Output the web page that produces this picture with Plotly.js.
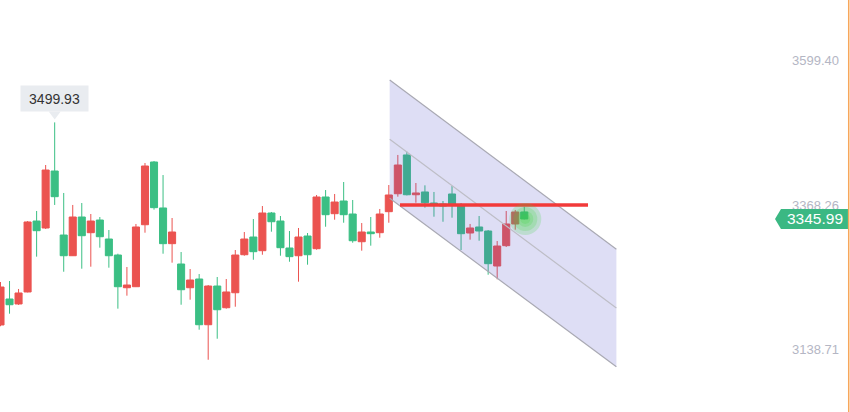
<!DOCTYPE html>
<html><head><meta charset="utf-8">
<script src="https://cdn.plot.ly/plotly-3.0.1.min.js"></script>
<style>html,body{margin:0;padding:0;background:#fff}#chart{width:850px;height:412px}</style>
</head><body><div id="chart"></div>
<script>
// ---- data ----
const openP  = [3177.0,3218.4,3210.5,3229.6,3342.7,3331.6,3422.4,3320.4,3287.4,3349.1,
                3324.1,3344.3,3314.0,3288.5,3236.4,3238.0,3336.8,3436.8,3363.5,3306.6,
                3274.2,3236.4,3250.3,3177.4,3239.1,3204.5,3228.4,3289.0,3317.2,3295.4,
                3355.5,3342.7,3299.7,3287.4,3318.8,3298.6,3381.0,3354.4,3374.6,3353.9,
                3309.7,3325.2,3324.1,3357.6,3386.2,3448.0,3384.6,3389.0,3371.4,3369.8,
                3385.8,3367.1,3323.6,3333.2,3326.8,3271.0,3303.4,3338.0,3357.1];
const highP  = [3245.5,3247.1,3234.4,3342.7,3358.7,3432.0,3499.93,3387.4,3368.3,3371.4,
                3353.9,3349.1,3328.4,3290.6,3269.4,3338.0,3435.2,3438.4,3416.0,3347.5,
                3293.3,3266.2,3258.2,3240.7,3253.5,3250.3,3296.5,3325.2,3345.9,3366.6,
                3357.1,3350.7,3326.8,3331.6,3323.6,3384.2,3392.1,3385.8,3404.9,3376.2,
                3339.5,3349.1,3361.9,3400.1,3448.0,3453.2,3403.3,3399.6,3389.0,3374.6,
                3398.5,3371.4,3338.0,3350.7,3328.4,3310.8,3358.7,3360.3,3365.5];
const lowP   = [3175.0,3195.0,3209.0,3229.0,3285.9,3330.0,3368.3,3261.9,3287.0,3266.7,
                3269.9,3300.2,3268.3,3203.0,3223.7,3237.5,3324.1,3360.8,3290.6,3276.3,
                3209.3,3217.3,3169.5,3121.6,3155.1,3203.0,3206.1,3287.4,3281.0,3289.0,
                3325.7,3287.4,3277.8,3246.0,3273.1,3297.0,3333.6,3344.8,3340.0,3308.1,
                3295.4,3303.4,3316.1,3340.0,3381.5,3383.5,3371.9,3364.0,3349.6,3341.6,
                3348.0,3296.5,3313.0,3311.3,3257.1,3249.8,3301.3,3328.9,3345.2];
const closeP = [3237.5,3209.3,3228.0,3341.2,3327.3,3424.0,3381.5,3287.4,3349.1,3319.3,
                3342.7,3317.7,3287.4,3238.0,3240.7,3333.2,3430.4,3364.0,3306.6,3325.2,
                3233.2,3248.7,3177.4,3239.1,3201.3,3229.6,3288.5,3314.0,3293.8,3355.5,
                3341.6,3300.2,3285.9,3317.2,3289.0,3381.0,3352.8,3373.0,3352.8,3311.3,
                3325.2,3322.5,3353.9,3384.2,3432.0,3384.6,3387.4,3371.9,3368.3,3366.6,
                3368.7,3322.5,3331.6,3326.8,3274.7,3302.9,3338.0,3357.1,3345.99];
const xIdx = openP.map((_, i) => i);
const yTickVals = [3138.71, 3368.26, 3599.40];
const yTickText = ['3138.71', '3368.26', '3599.40'];
// channel & level drawing (index / price units)
const channelX = [43.1, 68.2];
const channelTop = [3567.5, 3297.6];
const channelBottom = [3378.9, 3110.5];
const levelX = [44.24, 65.06];
const levelPrice = 3368.26;

// ---- derived ----
const n = closeP.length;
const last = n - 1;
const lastClose = closeP[last];
let maxIdx = 0;
highP.forEach((h, i) => { if (h > highP[maxIdx]) maxIdx = i; });
const chMid = [(channelTop[0] + channelBottom[0]) / 2, (channelTop[1] + channelBottom[1]) / 2];

const RED = '#eb5350', GREEN = '#3bbf84';
const traces = [
  {type: 'candlestick', x: xIdx, open: openP, high: highP, low: lowP, close: closeP,
   increasing: {line: {color: RED, width: 1}, fillcolor: RED},
   decreasing: {line: {color: GREEN, width: 1}, fillcolor: GREEN},
   whiskerwidth: 0, hoverinfo: 'none', showlegend: false}
];

const glow = [16, 12, 8, 5].map(r => ({
  type: 'circle', layer: 'above', xref: 'x', yref: 'y', xsizemode: 'pixel', ysizemode: 'pixel',
  xanchor: last, yanchor: lastClose, x0: -r + 1, x1: r + 1, y0: -r, y1: r,
  fillcolor: 'rgba(60,215,60,0.2)', line: {width: 0}
}));

const shapes = [
  {type: 'path', layer: 'above', xref: 'x', yref: 'y',
   path: `M ${channelX[0]},${channelTop[0]} L ${channelX[1]},${channelTop[1]} L ${channelX[1]},${channelBottom[1]} L ${channelX[0]},${channelBottom[0]} Z`,
   fillcolor: 'rgba(90,90,205,0.2)', line: {width: 0}},
  {type: 'line', layer: 'above', xref: 'x', yref: 'y', x0: channelX[0], x1: channelX[1], y0: channelTop[0], y1: channelTop[1], line: {color: '#a9a9b3', width: 1.2}},
  {type: 'line', layer: 'above', xref: 'x', yref: 'y', x0: channelX[0], x1: channelX[1], y0: chMid[0], y1: chMid[1], line: {color: '#bdbdc6', width: 1.2}},
  {type: 'line', layer: 'above', xref: 'x', yref: 'y', x0: channelX[0], x1: channelX[1], y0: channelBottom[0], y1: channelBottom[1], line: {color: '#a9a9b3', width: 1.2}},
  {type: 'line', layer: 'above', xref: 'x', yref: 'y', x0: levelX[0], x1: levelX[1], y0: levelPrice, y1: levelPrice, line: {color: '#f23a3a', width: 3.5}},
  ...glow,
  // pointer below the high label
  {type: 'path', layer: 'above', xref: 'x', yref: 'y', xsizemode: 'pixel', ysizemode: 'pixel',
   xanchor: maxIdx, yanchor: highP[maxIdx], path: 'M -6,11 L 6,11 L 0,3 Z', fillcolor: '#e9ecf0', line: {width: 0}},
  // current price tag
  {type: 'path', layer: 'above', xref: 'paper', yref: 'y', ysizemode: 'pixel', yanchor: lastClose,
   path: 'M 0.9118,0 L 0.9188,10 L 0.9976,10 L 0.9976,-10 L 0.9188,-10 Z', fillcolor: '#3bb883', line: {width: 0}},
  // right border line
  {type: 'line', layer: 'above', xref: 'paper', yref: 'paper', x0: 0.9985, x1: 0.9985, y0: 0, y1: 1, line: {color: '#f7a65a', width: 1.5}}
];

const annotations = [
  {x: maxIdx, y: highP[maxIdx], xref: 'x', yref: 'y', yshift: 23.5, showarrow: false,
   xanchor: 'center', yanchor: 'middle',
   text: highP[maxIdx].toFixed(2), bgcolor: '#e9ecf0', borderpad: 4, width: 59, height: 17,
   font: {family: 'Liberation Sans, Arial, sans-serif', size: 14, color: '#333333'}},
  {x: 0.9588, y: lastClose, xref: 'paper', yref: 'y', showarrow: false, text: lastClose.toFixed(2),
   xanchor: 'center', yanchor: 'middle',
   font: {family: 'Liberation Sans, Arial, sans-serif', size: 15.5, color: '#ffffff'}}
];

const layout = {
  width: 850, height: 412,
  margin: {l: 0, r: 0, t: 0, b: 0},
  paper_bgcolor: '#ffffff', plot_bgcolor: '#ffffff',
  showlegend: false,
  boxgap: 0.1, boxgroupgap: 0.13,
  font: {family: 'Liberation Sans, Arial, sans-serif'},
  xaxis: {range: [-0.055, 94.07], visible: false, rangeslider: {visible: false}, showgrid: false, zeroline: false},
  yaxis: {range: [3038.3, 3695.0], side: 'right', ticklabelposition: 'inside', ticklabelstandoff: 8,
          tickvals: yTickVals, ticktext: yTickText, ticks: '', showgrid: false, zeroline: false, showline: false,
          tickfont: {family: 'Liberation Sans, Arial, sans-serif', size: 13, color: '#b4b6c4'}},
  shapes: shapes,
  annotations: annotations
};

Plotly.newPlot('chart', traces, layout, {staticPlot: true, displayModeBar: false});
</script>
</body></html>
